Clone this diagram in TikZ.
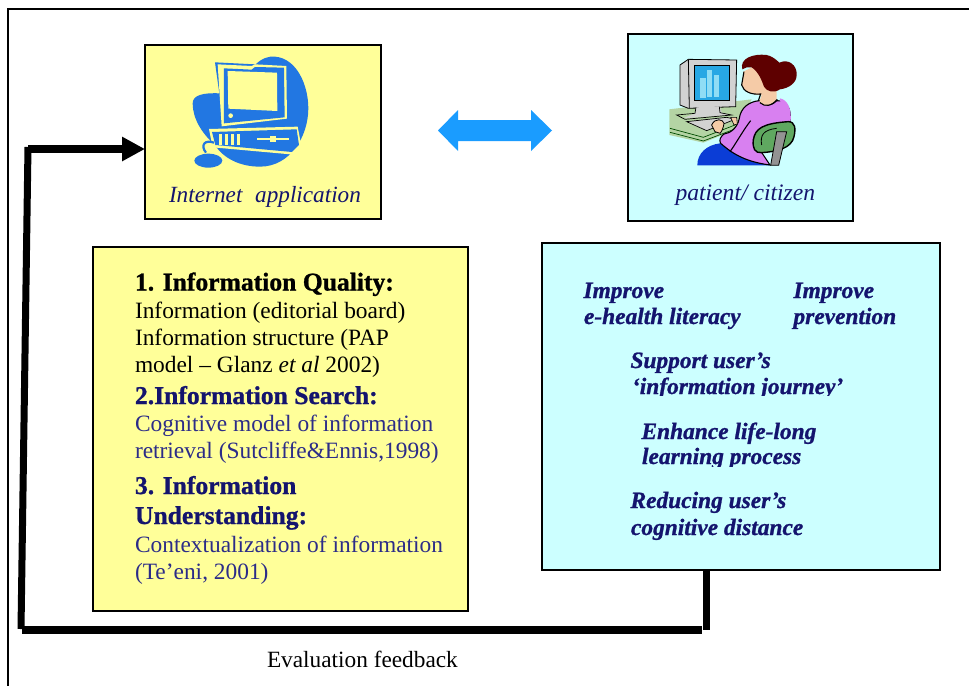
\documentclass[tikz,border=0pt]{standalone}
\usepackage{fontspec}
\setmainfont{Liberation Serif}
\newfontfamily\hdrfam{Liberation Serif}[BoldFeatures={FakeBold=1},BoldItalicFeatures={FakeBold=1}]
\usetikzlibrary{arrows.meta,calc}
\definecolor{paleyellow}{HTML}{FFFF99}
\definecolor{palecyan}{HTML}{CCFFFF}
\definecolor{navy}{HTML}{2C2C88}
\definecolor{deepnavy}{HTML}{14146E}
\definecolor{iconblue}{HTML}{2277E2}
\definecolor{arrowblue}{HTML}{1A9CFF}
\definecolor{deskgreen}{HTML}{B4D4A4}
\definecolor{monitorgray}{HTML}{D2D2D2}
\definecolor{screenblue}{HTML}{27A7E4}
\definecolor{barblue}{HTML}{8FDDF5}
\definecolor{skin}{HTML}{F5CBA7}
\definecolor{hair}{HTML}{5E0000}
\definecolor{blouse}{HTML}{D880F0}
\definecolor{chairgreen}{HTML}{5FA860}
\definecolor{pants}{HTML}{0B3DD6}
\tikzset{
  x=1pt,y=-1pt,
  box/.style={draw=black,line width=1.6pt,inner sep=0,outer sep=0},
  frameline/.style={draw=black,line width=1.5pt},
  feedback/.style={draw=black,line width=7pt,line cap=butt},
  line/.style={anchor=base west,inner sep=0,outer sep=0},
  body/.style={line,font=\fontsize{23.4}{26}\selectfont},
  head/.style={line,font=\hdrfam\bfseries\fontsize{25.6}{28}\selectfont},
  goal/.style={line,text=deepnavy,font=\hdrfam\bfseries\itshape\fontsize{23.4}{26}\selectfont},
  ink/.style={draw=black,line width=1pt},
}
\begin{document}
\begin{tikzpicture}
\useasboundingbox (0,0) rectangle (969,686);
\fill[white] (0,0) rectangle (969,686);
% outer frame (open on the right and at the bottom)
\draw[frameline] (969,9) -- (8,9) -- (8,686);

% boxes
\path[box,fill=paleyellow] (145,45) rectangle (381,219);
\node[inner sep=0,outer sep=0,minimum width=236pt,minimum height=174pt] (app) at (263,132) {};
\path[box,fill=palecyan] (628,34) rectangle (853,221);
\node[inner sep=0,outer sep=0,minimum width=225pt,minimum height=187pt] (patient) at (740.5,127.5) {};
\path[box,fill=paleyellow] (93,247) rectangle (468,611);
\path[box,fill=palecyan] (542,243) rectangle (940,570);
\node[inner sep=0,outer sep=0,minimum width=398pt,minimum height=327pt] (goals) at (741,406.5) {};

% computer icon
\begin{scope}[shift={(140,30)},x=0.3333pt,y=-0.3333pt]
  \fill[iconblue] (345,105) .. controls (365,85) and (385,78) .. (405,80)
    .. controls (470,85) and (505,165) .. (505,235)
    .. controls (505,320) and (450,410) .. (360,410)
    .. controls (300,410) and (250,385) .. (225,345)
    .. controls (185,310) and (158,265) .. (158,220)
    .. controls (158,195) and (190,188) .. (238,190) -- cycle;
  \fill[iconblue] (225,97) -- (345,103) -- (345,112) -- (238,190) -- cycle;
  \fill[paleyellow] (233,103) -- (335,108) -- (345,103) -- (439,108) -- (441,266) -- (245,289) -- cycle;
  \fill[iconblue] (252,115) -- (335,119) -- (345,111) -- (432,113) -- (434,262) -- (252,280) -- cycle;
  \fill[paleyellow] (263,123) -- (411,128) -- (412,243) -- (265,236) -- cycle;
  \fill[paleyellow] (272,257) circle[radius=7];
  \fill[paleyellow] (207,297) -- (473,290) -- (483,342) -- (462,374) -- (218,352) -- cycle;
  \fill[iconblue] (216,306) -- (470,298) -- (477,345) -- (456,366) -- (226,345) -- cycle;
  \foreach \bx in {238,256,274,291} \fill[paleyellow] (\bx,313) rectangle ++(9,32);
  \fill[paleyellow] (350,324) rectangle (448,331);
  \fill[paleyellow] (390,318) rectangle (408,336);
  \draw[iconblue,line width=2.2pt] (222,338) .. controls (195,328) and (180,345) .. (198,368);
  \fill[iconblue] (205,392) ellipse[x radius=42,y radius=21];
\end{scope}

% woman at a computer
\begin{scope}[shift={(620,30)},x=0.3333pt,y=-0.3333pt]
  \fill[deskgreen] (148,238) -- (395,208) -- (350,298) -- (250,338) -- (148,315) -- cycle;
  \draw[black!70!green,line width=.7pt] (150,295) -- (250,322) -- (345,285);
  \draw[black!70!green,line width=.7pt] (150,307) -- (250,333) -- (345,297);
  \fill[monitorgray] (180,105) -- (205,88) -- (350,90) -- (347,230) -- (205,235) -- (180,225) -- cycle;
  \draw[ink,line width=.8pt] (180,105) -- (205,88) -- (350,90) -- (347,230) -- (205,235) -- (180,225) -- cycle;
  \draw[ink,line width=.8pt] (205,88) -- (208,235);
  \fill[black] (222,105) rectangle (331,212);
  \fill[screenblue] (225,108) rectangle (328,209);
  \fill[barblue] (241,145) rectangle (257,203);
  \fill[barblue] (261,120) rectangle (276,200);
  \fill[barblue] (281,135) rectangle (296,200);
  \fill[monitorgray] (228,232) -- (300,230) -- (305,248) -- (335,255) -- (190,265) -- (225,250) -- cycle;
  \draw[ink,line width=.7pt] (228,232) -- (225,250) -- (170,255) -- (195,268) -- (335,255) -- (300,248) -- (298,230);
  \fill[monitorgray] (200,275) -- (320,262) -- (345,268) -- (260,302) -- cycle;
  \draw[ink,line width=.7pt] (200,275) -- (320,262) -- (345,268) -- (260,302) -- cycle;
  \fill[pants] (232,406) .. controls (232,370) and (260,345) .. (300,340) -- (340,365) -- (390,392) -- (450,406) -- cycle;
  \fill[blouse,draw=black,line width=1.1pt] (418,212) .. controls (385,215) and (362,235) .. (358,265)
    .. controls (352,295) and (330,310) .. (312,312)
    .. controls (302,320) and (296,330) .. (302,340)
    .. controls (330,365) and (370,395) .. (450,405)
    -- (400,330) -- (510,275)
    .. controls (515,245) and (505,210) .. (470,212)
    .. controls (455,228) and (430,232) .. cycle;
  \fill[blouse] (480,205) .. controls (505,210) and (515,240) .. (512,275) -- (500,275) -- (480,212) -- cycle;
  \draw[black,line width=1.1pt] (392,272) .. controls (370,300) and (345,345) .. (330,365);
  \fill[chairgreen,draw=black,line width=1.4pt] (400,330) .. controls (405,295) and (430,280) .. (505,275)
    .. controls (525,275) and (528,295) .. (522,320)
    .. controls (515,355) and (470,365) .. (425,368)
    .. controls (405,370) and (397,355) .. (400,330) -- cycle;
  \draw[black,line width=.8pt] (425,345) .. controls (420,315) and (430,300) .. (470,295);
  \fill[monitorgray!70!black,draw=black,line width=.8pt] (470,305) -- (500,305) -- (476,406) -- (452,406) -- cycle;
  \fill[skin,draw=black,line width=.8pt] (275,285) .. controls (285,262) and (310,268) .. (312,280)
    .. controls (310,295) and (305,305) .. (300,310) -- (285,305) -- cycle;
  \fill[skin,draw=black,line width=.6pt] (332,262) -- (350,262) -- (352,282) -- (342,285) -- cycle;
  \fill[skin] (370,125) -- (365,165) .. controls (370,185) and (395,195) .. (425,195)
    -- (418,215) .. controls (430,232) and (455,228) .. (470,210) -- (470,140) -- (420,100) -- cycle;
  \draw[black,line width=1.1pt] (372,125) -- (365,165) .. controls (370,185) and (395,195) .. (422,192) -- (415,213);
  \draw[black,line width=1.1pt] (420,218) .. controls (435,232) and (455,228) .. (472,208);
  \fill[hair] (367,118) .. controls (358,85) and (400,70) .. (440,75)
    .. controls (455,78) and (468,88) .. (478,98)
    .. controls (505,85) and (532,105) .. (530,135)
    .. controls (530,160) and (505,175) .. (480,178)
    .. controls (462,190) and (440,185) .. (432,170)
    .. controls (425,150) and (415,125) .. (395,112)
    .. controls (385,110) and (375,112) .. (367,118) -- cycle;
\end{scope}

% double-headed arrow
\fill[arrowblue] (438,130.5) -- (458,110) -- (458,120) -- (531,120) -- (531,110) -- (552,130.5) -- (531,151) -- (531,141) -- (458,141) -- (458,151) -- cycle;

% labels of the top boxes
\node[line,text=deepnavy,font=\itshape\fontsize{23.2}{26}\selectfont] (applabel) at (169,202) {Internet\hspace{.3em} application};
\node[line,text=deepnavy,font=\itshape\fontsize{23.6}{26}\selectfont] (patientlabel) at (675.5,200) {patient/ citizen};

% yellow box text
\node[head] (q1) at (135,290.5) {1. Information Quality:};
\node[body] (q2) at (135,318) {Information (editorial board)};
\node[body] (q3) at (135,345) {Information structure (PAP};
\node[body] (q4) at (135,372) {model -- Glanz \textit{et al} 2002)};
\node[head,text=deepnavy] (s1) at (135,404) {2.Information Search:};
\node[body,text=navy] (s2) at (135,431) {Cognitive model of information};
\node[body,text=navy] (s3) at (135,458) {retrieval (Sutcliffe\&Ennis,1998)};
\node[head,text=deepnavy] (u1) at (135,494) {3. Information};
\node[head,text=deepnavy] (u2) at (135,524) {Understanding:};
\node[body,text=navy] (u3) at (135,552) {Contextualization of information};
\node[body,text=navy] (u4) at (135,579) {(Te’eni, 2001)};

% cyan box text
\node[goal] (g1) at (583.5,298) {Improve};
\node[goal] (g2) at (584,324) {e-health literacy};
\node[goal] (g3) at (793.5,298) {Improve};
\node[goal] (g4) at (793.5,324) {prevention};
\node[goal] (g5) at (630.5,368) {Support user’s};
\node[goal] (g6) at (632,394) {‘information journey’};
\node[goal] (g7) at (641.5,439) {Enhance life-long};
\node[goal] (g8) at (642,464) {learning process};
\node[goal] (g9) at (630.5,508) {Reducing user’s};
\node[goal] (g10) at (631,535) {cognitive distance};
% the reference cuts the descenders of these two lines
\fill[palecyan] (625,396.3) rectangle (850,403);
\fill[palecyan] (635,466.7) rectangle (810,473);

% feedback connector
\coordinate (fbdown) at (706.5,630);
\coordinate (fbright) at (702,630);
\coordinate (fbleft) at (22,630);
\coordinate (fbbottom) at (21,629);
\coordinate (fbtop) at (28,147);
\coordinate (fbstart) at (28,149);
\draw[feedback] (goals.south -| fbdown) -- (fbdown);
\draw[feedback,line width=8pt] (fbleft) -- (fbright);
\draw[feedback] (fbbottom) -- (fbtop);
\draw[feedback,line width=8pt,-{Triangle[length=23pt,width=23pt]}] (fbstart) -- (app.west |- fbstart);

\node[line,font=\fontsize{23.3}{26}\selectfont] (evfb) at (267,667) {Evaluation feedback};
\end{tikzpicture}
\end{document}
